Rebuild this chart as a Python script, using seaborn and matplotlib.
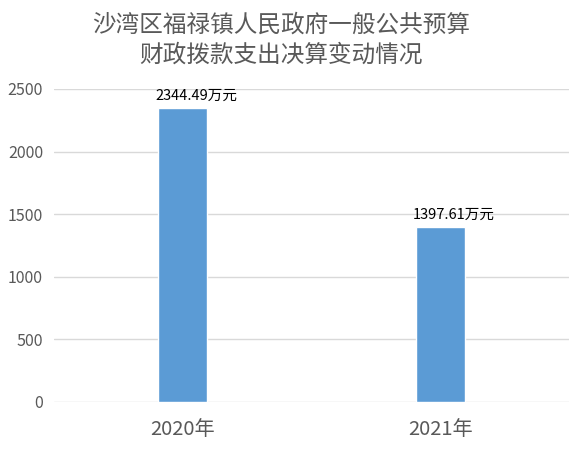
import pandas as pd
import matplotlib
matplotlib.use("Agg")
import matplotlib.pyplot as plt
import seaborn as sns

# データ
years = ["2020年", "2021年"]
amounts = [2344.49, 1397.61]
title = "沙湾区福禄镇人民政府一般公共预算\n财政拨款支出决算变动情况"

sns.set_theme(style="white")
plt.rcParams["font.family"] = ["Noto Sans CJK SC", "DejaVu Sans"]

df = pd.DataFrame({"年": years, "金额": amounts})

fig = plt.figure(figsize=(5.69, 4.49), dpi=100)
ax = fig.add_axes([0.095, 0.1047, 0.905, 0.6973])

sns.barplot(data=df, x="年", y="金额", color="#5B9BD5", saturation=1,
            width=0.19, ax=ax)

ax.set_ylim(0, 2500)
ax.set_yticks(range(0, 2501, 500))
ax.set_xlim(-0.5, 1.5)
ax.grid(axis="y", color="#D9D9D9", linewidth=1)
ax.set_axisbelow(True)
for s in ax.spines.values():
    s.set_visible(False)

ax.set_xlabel("")
ax.set_ylabel("")
ax.tick_params(axis="y", labelsize=11.5, colors="#595959", length=0, pad=8)
ax.tick_params(axis="x", labelsize=14.5, colors="#595959", length=0, pad=12)

# 棒の上にラベル
for i, v in enumerate(amounts):
    ax.annotate(f"{v:.2f}万元", (i, v), xytext=(10, 4), textcoords="offset points",
                ha="center", va="bottom", fontsize=10.5, color="black")

fig.text(281 / 569, 1 - 40 / 449, title, ha="center", va="center",
         fontsize=17, color="#595959", linespacing=1.35)

fig.savefig("out.png", dpi=100)
